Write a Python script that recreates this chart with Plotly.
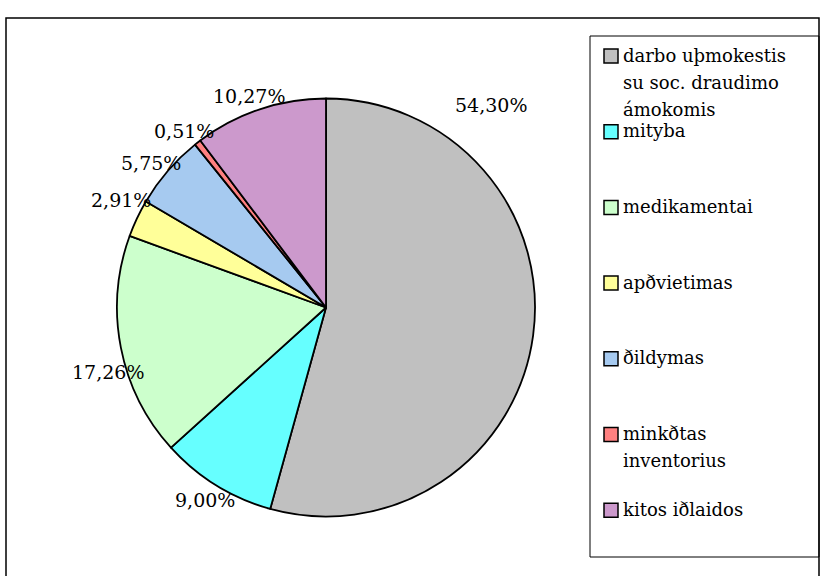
import plotly.graph_objects as go

# kategorijos (tekstas kaip paveiksle)
kategorijos = [
    'darbo uþmokestis<br>su soc. draudimo<br>ámokomis',
    'mityba',
    'medikamentai',
    'apðvietimas',
    'ðildymas',
    'minkðtas<br>inventorius',
    'kitos iðlaidos',
]
procentai = [54.30, 9.00, 17.26, 2.91, 5.75, 0.51, 10.27]
spalvos = ['#C0C0C0', '#66FFFF', '#CCFFCC', '#FFFF99', '#A6CAF0', '#FF8080', '#CC99CC']

W, H = 820, 576
serif = 'DejaVu Serif'

def px(x):
    return x / W

def py(y):
    return 1 - y / H

fig = go.Figure(go.Pie(
    labels=kategorijos,
    values=procentai,
    sort=False,
    direction='clockwise',
    rotation=0,
    marker=dict(colors=spalvos, line=dict(color='black', width=1.8)),
    textinfo='none',
    hoverinfo='label+percent',
    domain=dict(x=[px(117), px(535)], y=[py(517), py(98)]),
))

# procentu etiketes (vietos paimtos is paveikslo)
etikeciu_vietos = [(491, 92), (173, 513), (70, 385), (89, 200), (119, 150), (152, 118), (211, 83)]
anots = []
for v, (x, y) in zip(procentai, etikeciu_vietos):
    anots.append(dict(x=px(x), y=py(y), xref='paper', yref='paper',
                      text=f'{v:.2f}'.replace('.', ',') + '%', showarrow=False,
                      font=dict(family=serif, size=19, color='black')))

# rankine legenda
shapes = [
    dict(type='rect', xref='paper', yref='paper', x0=px(6), x1=px(819), y0=py(580), y1=py(18),
         line=dict(color='black', width=1.5)),
    dict(type='rect', xref='paper', yref='paper', x0=px(590), x1=px(819), y0=py(557), y1=py(36),
         line=dict(color='black', width=1)),
]
legendos_virsus = 49
legendos_zingsnis = 75.7
eilutes_aukstis = 27
for i, (k, c) in enumerate(zip(kategorijos, spalvos)):
    t = legendos_virsus + i * legendos_zingsnis
    shapes.append(dict(type='rect', xref='paper', yref='paper',
                       x0=px(604), x1=px(618), y0=py(t + 14), y1=py(t),
                       fillcolor=c, line=dict(color='black', width=1.5)))
    for j, eil in enumerate(k.split('<br>')):
        anots.append(dict(x=px(621), y=py(t + 6 + j * eilutes_aukstis), xref='paper', yref='paper',
                          xanchor='left', yanchor='middle', align='left',
                          text=eil, showarrow=False,
                          font=dict(family=serif, size=18, color='black')))

fig.update_layout(
    width=W, height=H,
    margin=dict(l=0, r=0, t=0, b=0),
    paper_bgcolor='white', plot_bgcolor='white',
    showlegend=False,
    shapes=shapes,
    annotations=anots,
)

fig.write_html('out.html', config={'displayModeBar': False})

# nuimam narsykles body parastes, kad grafikas prasidetu nuo 0,0
with open('out.html', encoding='utf-8') as f:
    html = f.read()
html = html.replace('<body>', '<body style="margin:0">', 1)
with open('out.html', 'w', encoding='utf-8') as f:
    f.write(html)
